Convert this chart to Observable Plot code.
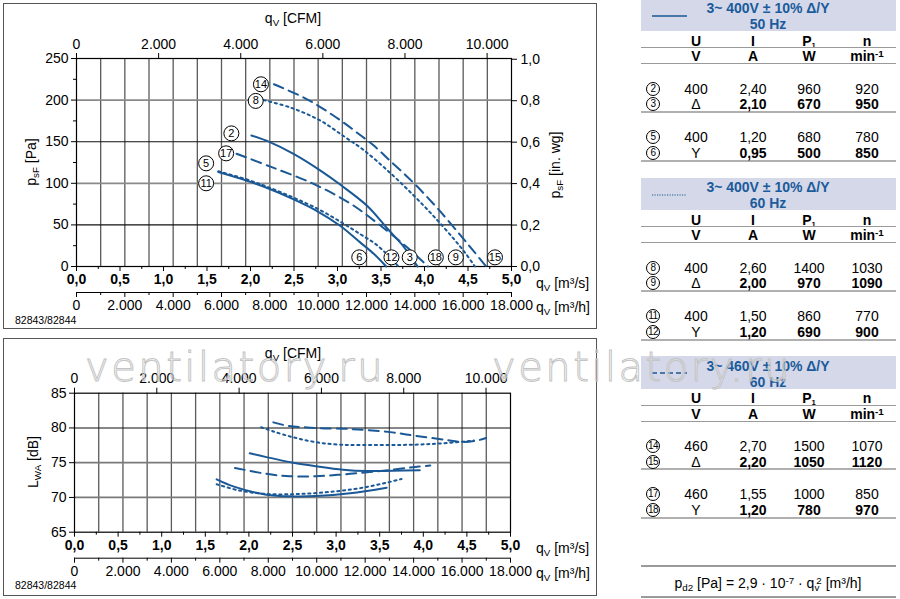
<!DOCTYPE html>
<html><head><meta charset="utf-8">
<script src="https://cdn.jsdelivr.net/npm/d3@7"></script>
<script src="https://cdn.jsdelivr.net/npm/@observablehq/plot@0.6"></script>
<style>
body{margin:0;background:#fff;font-family:"Liberation Sans",Arial,Helvetica,sans-serif;}
#page{position:relative;width:900px;height:599px;overflow:hidden;background:#fff;}
.abs{position:absolute;white-space:nowrap;line-height:1.15;color:#000;}
.abs sub{font-size:0.7em;vertical-align:-0.3em;line-height:0;}
.abs sup{font-size:0.7em;vertical-align:0.45em;line-height:0;}
.panel{position:absolute;border:1.5px solid #555;box-sizing:border-box;pointer-events:none;}
.chart{position:absolute;left:0;}
.chart svg{overflow:visible;}
.circ{position:absolute;width:12px;height:12px;border:1px solid #000;border-radius:50%;font-size:10px;line-height:12px;text-align:center;transform:translate(-50%,-50%);letter-spacing:-0.5px;}
.band{position:absolute;left:641px;width:255px;height:32.5px;background:#d4d8e8;}
.hline{position:absolute;left:641px;width:255px;}
.wm{position:absolute;font-family:"DejaVu Sans",sans-serif;font-weight:200;font-size:40px;line-height:40px;letter-spacing:2.5px;color:rgba(255,255,255,0.2);-webkit-text-stroke:1px #c4c4c4;white-space:nowrap;pointer-events:none;}
</style></head>
<body><div id="page"></div>
<script>
// ---------- constants ----------
const BLUE = "#1a5896";
const CFM = 0.000471947;       // m3/s per CFM
const PA_PER_INWG = 249.089;   // Pa per in. wg

// ---------- axis ticks ----------
const qTicks = [0, 0.5, 1, 1.5, 2, 2.5, 3, 3.5, 4, 4.5, 5];
const qMinor = [0.25, 0.75, 1.25, 1.75, 2.25, 2.75, 3.25, 3.75, 4.25, 4.75];
const m3hTicks = [0, 2000, 4000, 6000, 8000, 10000, 12000, 14000, 16000, 18000];
const m3hMinor = [1000, 3000, 5000, 7000, 9000, 11000, 13000, 15000, 17000];
const m3hGrid = [1000, 2000, 3000, 4000, 5000, 6000, 7000, 8000, 9000, 10000, 11000, 12000, 13000, 14000, 15000, 16000, 17000];
const cfmTicks = [0, 2000, 4000, 6000, 8000, 10000];
const paTicks = [0, 50, 100, 150, 200, 250];
const paMinor = [25, 75, 125, 175, 225];
const paGridDark = [50, 150];
const paGridLight = [100, 200];
const inwgTicks = [0, 0.2, 0.4, 0.6, 0.8, 1.0];
const dbTicks = [65, 70, 75, 80, 85];
const dbGridDark = [80];
const dbGridLight = [70, 75];

// ---------- pressure curves (q in m3/s, p in Pa) ----------
const p2q  = [2.01, 2.21, 2.50, 2.80, 3.03, 3.34, 3.57, 3.76, 3.92];
const p2v  = [157.5, 150, 135, 115.5, 98.5, 73, 46, 24, 0];
const p5q  = [1.63, 1.96, 2.20, 2.49, 2.76, 3.03, 3.26, 3.42, 3.56];
const p5v  = [113.5, 103, 94, 81, 67, 49, 29, 15, 0];
const p8q  = [2.15, 2.46, 2.80, 3.08, 3.30, 3.60, 3.87, 4.10, 4.33, 4.47, 4.58];
const p8v  = [200, 191, 175.5, 156, 140, 113, 86, 61, 34, 16, 0];
const p11q = [1.63, 1.96, 2.20, 2.49, 2.76, 3.03, 3.26, 3.45, 3.64, 3.70];
const p11v = [114.5, 104.5, 95.5, 83, 70, 54, 39, 26, 7, 0];
const p14q = [2.27, 2.65, 3.03, 3.26, 3.41, 3.60, 3.87, 4.14, 4.41, 4.56, 4.71];
const p14v = [219, 201, 176, 158, 146, 127.5, 101, 71, 38, 19, 0];
const p17q = [1.84, 2.23, 2.72, 3.15, 3.49, 3.80, 4.04];
const p17v = [135.5, 120, 99.5, 75.5, 49.5, 23, 0];

// ---------- sound power curves (q in m3/s, LwA in dB) ----------
const s2q  = [2.01, 2.20, 2.51, 2.77, 3.08, 3.35, 3.65, 3.96];
const s2v  = [76.35, 75.8, 75.0, 74.5, 74.0, 73.8, 73.85, 73.9];
const s5q  = [1.63, 1.82, 2.20, 2.51, 2.77, 3.16, 3.58];
const s5v  = [72.6, 71.6, 70.4, 70.15, 70.2, 70.6, 71.4];
const s8q  = [2.14, 2.28, 2.51, 2.77, 3.04, 3.35, 3.73, 4.11, 4.46, 4.58];
const s8v  = [80.1, 79.5, 78.65, 77.95, 77.6, 77.55, 77.55, 77.7, 78.03, 78.2];
const s11q = [1.63, 1.89, 2.20, 2.58, 2.97, 3.35, 3.75];
const s11v = [71.9, 71.0, 70.5, 70.5, 70.85, 71.5, 72.65];
const s14q = [2.28, 2.45, 2.77, 3.16, 3.62, 3.92, 4.25, 4.45, 4.60, 4.72];
const s14v = [80.8, 80.3, 80.0, 79.85, 79.4, 78.85, 78.3, 77.98, 78.15, 78.55];
const s17q = [1.84, 2.20, 2.47, 2.77, 3.16, 3.54, 3.88, 4.08];
const s17v = [74.25, 73.4, 73.05, 73.05, 73.4, 73.85, 74.35, 74.6];

// ---------- curve labels ----------
const labelIds = ["14", "8", "2", "17", "5", "11", "6", "12", "3", "18", "9", "15"];
const labelQ   = [2.12, 2.06, 1.78, 1.72, 1.49, 1.49, 3.25, 3.62, 3.83, 4.13, 4.36, 4.81];
const labelP   = [219, 199, 160, 136, 124, 100, 11, 11, 11, 11, 11, 11];

// ---------- table ----------
const tableTitles = ["3~ 400V ± 10% Δ/Y", "3~ 400V ± 10% Δ/Y", "3~ 460V ± 10% Δ/Y"];
const tableFreqs  = ["50 Hz", "60 Hz", "60 Hz"];
const headTop = ["U", "I", "P<sub style='font-size:0.55em'>1</sub>", "n"];
const headUnit = ["V", "A", "W", "min<sup>-1</sup>"];
const rowIds = [["2", "3", "5", "6"], ["8", "9", "11", "12"], ["14", "15", "17", "18"]];
const rowU = [["400", "Δ", "400", "Y"], ["400", "Δ", "400", "Y"], ["460", "Δ", "460", "Y"]];
const rowI = [["2,40", "2,10", "1,20", "0,95"], ["2,60", "2,00", "1,50", "1,20"], ["2,70", "2,20", "1,55", "1,20"]];
const rowP = [["960", "670", "680", "500"], ["1400", "970", "860", "690"], ["1500", "1050", "1000", "780"]];
const rowN = [["920", "950", "780", "850"], ["1030", "1090", "770", "900"], ["1070", "1120", "850", "970"]];

// ---------- helpers ----------
const page = document.getElementById("page");
const fmtDec = d => d.toFixed(1).replace(".", ",");
const fmtInt = d => d3.format(",")(Math.round(d)).replace(/,/g, ".");
const series = (qs, vs) => qs.map((q, i) => ({q, v: vs[i]}));
const DOT = "2.2,3.6", DASH = "10,6";

function label(html, x, y, o = {}) {
  const d = document.createElement("div");
  d.className = "abs";
  d.innerHTML = html;
  d.style.left = x + "px";
  d.style.top = y + "px";
  d.style.fontSize = (o.size || 14) + "px";
  if (o.weight) d.style.fontWeight = o.weight;
  if (o.color) d.style.color = o.color;
  const tx = o.anchor === "start" ? "0" : o.anchor === "end" ? "-100%" : "-50%";
  d.style.transform = `translate(${tx},-50%)` + (o.rotate ? ` rotate(${o.rotate}deg)` : "");
  page.appendChild(d);
  return d;
}

function curveMarks(list) {
  return list.map(([qs, vs, dash]) =>
    Plot.line(series(qs, vs), {x: "q", y: "v", stroke: BLUE, strokeWidth: 2, curve: "catmull-rom",
      strokeDasharray: dash || null}));
}

function commonX() {
  return [
    Plot.axisX(qTicks, {anchor: "bottom", tickSize: 5, tickPadding: 3, tickFormat: fmtDec, fontWeight: "bold", fontSize: 14, label: null}),
    Plot.axisX(qMinor, {anchor: "bottom", tickSize: 3, tickFormat: () => "", label: null}),
    Plot.axisX(m3hTicks.map(m => m / 3600), {anchor: "bottom", dy: 26, tickSize: 5, tickPadding: 3, tickFormat: d => fmtInt(d * 3600), fontSize: 14, label: null}),
    Plot.axisX(m3hMinor.map(m => m / 3600), {anchor: "bottom", dy: 26, tickSize: 3, tickFormat: () => "", label: null}),
    Plot.axisX(cfmTicks.map(c => c * CFM), {anchor: "top", tickSize: 6, tickPadding: 4, tickFormat: d => fmtInt(d / CFM), fontSize: 14, label: null})
  ];
}

const style = {fontFamily: '"Liberation Sans", Arial, sans-serif', fontSize: "14px", color: "#000", background: "transparent", overflow: "visible"};

// ---------- top chart ----------
const topChart = Plot.plot({
  width: 600, height: 330,
  marginLeft: 76, marginRight: 89, marginTop: 58, marginBottom: 64,
  x: {domain: [0, 5], axis: null, label: null},
  y: {domain: [0, 250], axis: null, label: null},
  style,
  marks: [
    Plot.ruleX(m3hGrid, {x: d => d / 3600, stroke: "#5a5a5a", strokeWidth: 1.3}),
    Plot.ruleY(paGridDark, {stroke: "#111", strokeWidth: 1.1}),
    Plot.ruleY(paGridLight, {stroke: "#8a8a8a", strokeWidth: 1.7}),
    Plot.frame({stroke: "#000", strokeWidth: 1.2}),
    Plot.axisY(paTicks, {anchor: "left", tickSize: 5, tickPadding: 3, tickFormat: d => String(d), fontSize: 14, label: null}),
    Plot.axisY(paMinor, {anchor: "left", tickSize: 3, tickFormat: () => "", label: null}),
    Plot.axisY(inwgTicks.map(v => v * PA_PER_INWG), {anchor: "right", tickSize: 5, tickPadding: 4, tickFormat: d => fmtDec(d / PA_PER_INWG), fontSize: 14, label: null}),
    Plot.ruleY([paTicks[0]], {dy: 26, stroke: "#000"}),
    ...commonX(),
    ...curveMarks([[p2q, p2v], [p5q, p5v], [p8q, p8v, DOT], [p11q, p11v, DOT], [p14q, p14v, DASH], [p17q, p17v, DASH]]),
    Plot.dot(labelIds.map((id, i) => ({id, q: labelQ[i], v: labelP[i]})), {x: "q", y: "v", r: 7.5, fill: "white", stroke: "#000", strokeWidth: 1}),
    Plot.text(labelIds.map((id, i) => ({id, q: labelQ[i], v: labelP[i]})), {x: "q", y: "v", text: "id", fontSize: 11, fill: "#000"})
  ]
});
const topWrap = document.createElement("div");
topWrap.className = "chart"; topWrap.style.top = "0px";
topWrap.appendChild(topChart);
page.appendChild(topWrap);

// ---------- bottom chart ----------
const botChart = Plot.plot({
  width: 600, height: 262,
  marginLeft: 74, marginRight: 90, marginTop: 57.7, marginBottom: 65.3,
  x: {domain: [0, 5], axis: null, label: null},
  y: {domain: [65, 85], axis: null, label: null},
  style,
  marks: [
    Plot.ruleX(m3hGrid, {x: d => d / 3600, stroke: "#5a5a5a", strokeWidth: 1.3}),
    Plot.ruleY(dbGridDark, {stroke: "#111", strokeWidth: 1.1}),
    Plot.ruleY(dbGridLight, {stroke: "#7a7a7a", strokeWidth: 1.7}),
    Plot.frame({stroke: "#000", strokeWidth: 1.2}),
    Plot.axisY(dbTicks, {anchor: "left", tickSize: 5, tickPadding: 3, tickFormat: d => String(d), fontSize: 14, label: null}),
    Plot.ruleY([dbTicks[0]], {dy: 26, stroke: "#000"}),
    ...commonX(),
    ...curveMarks([[s2q, s2v], [s5q, s5v], [s8q, s8v, DOT], [s11q, s11v, DOT], [s14q, s14v, DASH], [s17q, s17v, DASH]])
  ]
});
const botWrap = document.createElement("div");
botWrap.className = "chart"; botWrap.style.top = "335px";
botWrap.appendChild(botChart);
page.appendChild(botWrap);

// ---------- panels & axis titles ----------
[[3, 3, 594, 326], [3, 338, 594, 258]].forEach(([x, y, w, h]) => {
  const p = document.createElement("div");
  p.className = "panel";
  Object.assign(p.style, {left: x + "px", top: y + "px", width: w + "px", height: h + "px"});
  page.appendChild(p);
});

label("q<sub>V</sub> [CFM]", 293, 18);
label("p<sub>sF</sub> [Pa]", 31, 162, {rotate: -90});
label("p<sub>sF</sub> [in. wg]", 555, 165, {rotate: -90});
label("q<sub>V</sub> [m³/s]", 536, 283, {anchor: "start"});
label("q<sub>V</sub> [m³/h]", 536, 307, {anchor: "start"});
label("82843/82844", 15, 320, {anchor: "start", size: 10.5});

label("q<sub>V</sub> [CFM]", 293, 353);
label("L<sub>WA</sub> [dB]", 33, 462, {rotate: -90});
label("q<sub>V</sub> [m³/s]", 536, 548, {anchor: "start"});
label("q<sub>V</sub> [m³/h]", 536, 573, {anchor: "start"});
label("82843/82844", 15, 585, {anchor: "start", size: 10.5});

// ---------- table ----------
const bandTops = [-1.5, 177.5, 356];
const colX = [696, 753, 809, 867];
const rowDy = [90, 105.7, 138, 154];
const legendDash = [null, "1.2,1.3", "5,3"];
bandTops.forEach((T, g) => {
  const b = document.createElement("div");
  b.className = "band"; b.style.top = T + "px";
  page.appendChild(b);
  label(tableTitles[g], 768, T + 9.5, {weight: "bold", color: "#1b5b9b"});
  label(tableFreqs[g], 768, T + 25.5, {weight: "bold", color: "#1b5b9b"});
  // legend sample
  const ns = "http://www.w3.org/2000/svg";
  const svg = document.createElementNS(ns, "svg");
  svg.setAttribute("width", 40); svg.setAttribute("height", 6);
  Object.assign(svg.style, {position: "absolute", left: "652px", top: (T + 14) + "px"});
  const ln = document.createElementNS(ns, "line");
  ln.setAttribute("x1", 0); ln.setAttribute("x2", 35); ln.setAttribute("y1", 3); ln.setAttribute("y2", 3);
  ln.setAttribute("stroke", BLUE); ln.setAttribute("stroke-width", g === 1 ? 1 : 1.3);
  if (legendDash[g]) ln.setAttribute("stroke-dasharray", legendDash[g]);
  svg.appendChild(ln); page.appendChild(svg);
  // headers
  headTop.forEach((h, j) => label(h, colX[j], T + 42, {weight: "bold"}));
  headUnit.forEach((h, j) => label(h, colX[j], T + 57.5, {weight: "bold"}));
  [[T + 49, 1, "#9a9a9a"], [T + 65, 1, "#9a9a9a"], [T + 113, 2, "#b0b0b0"], [T + 162, 2, "#b0b0b0"]].forEach(([y, w, c]) => {
    const l = document.createElement("div");
    l.className = "hline";
    Object.assign(l.style, {top: (y - w / 2) + "px", height: w + "px", background: c});
    page.appendChild(l);
  });
  // rows
  rowIds[g].forEach((id, r) => {
    const y = T + rowDy[r];
    const c = document.createElement("div");
    c.className = "circ"; c.textContent = id;
    Object.assign(c.style, {left: "653px", top: y + "px"});
    page.appendChild(c);
    const w = (r % 2 === 1) ? "bold" : null;
    [rowU[g][r], rowI[g][r], rowP[g][r], rowN[g][r]].forEach((v, j) => label(v, colX[j], y, {weight: j === 0 ? null : w}));
  });
});
[[566, 1.2], [597, 1.2]].forEach(([y, w]) => {
  const l = document.createElement("div");
  l.className = "hline";
  Object.assign(l.style, {top: (y - w / 2) + "px", height: w + "px", background: "#9a9a9a"});
  page.appendChild(l);
});
label("p<sub>d2</sub> [Pa] = 2,9 · 10<sup>-7</sup> · q<sub>v</sub><sup style='margin-left:-0.3em'>2</sup> [m³/h]", 768, 583);

// ---------- watermark ----------
[[85, 347], [492, 347]].forEach(([x, y]) => {
  const w = document.createElement("div");
  w.className = "wm"; w.textContent = "ventilatory.ru";
  Object.assign(w.style, {left: x + "px", top: y + "px"});
  page.appendChild(w);
});
</script>
</body></html>
